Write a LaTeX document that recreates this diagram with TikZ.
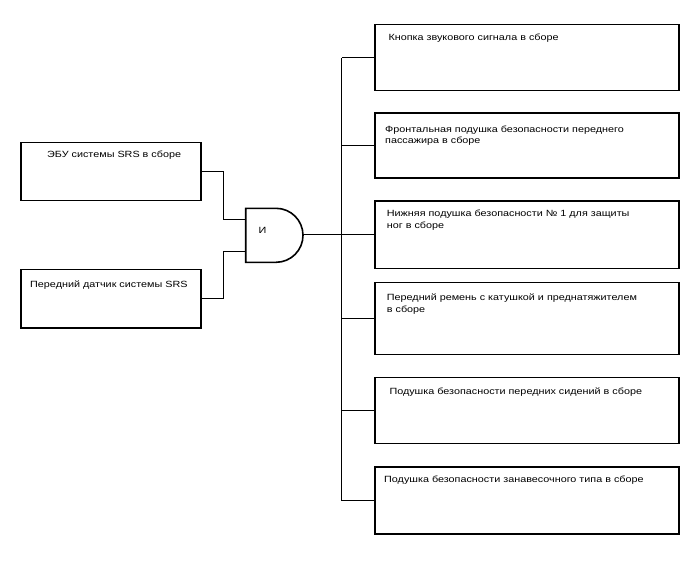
\documentclass[tikz,border=0pt]{standalone}
\usepackage{fontspec}
\setmainfont{Liberation Sans}[FakeStretch=1.2]
\begin{document}
\begin{tikzpicture}[x=1pt, y=-1pt,
  blk/.style={draw, line width=1.6pt, minimum width=304pt, inner sep=0pt},
  lblk/.style={draw, line width=1.6pt, minimum width=180pt, inner sep=0pt},
  txt/.style={anchor=base west, inner sep=0pt, align=left, font=\fontsize{9}{11.7}\selectfont},
  wire/.style={line width=1.1pt}]
  \useasboundingbox (0,0) rectangle (688,560);

  % left side boxes
  \node[lblk, minimum height=58.3pt] (ecu) at (110.7,171.5) {};
  \node[lblk, minimum height=58.4pt] (sens) at (110.7,298.5) {};
  \node[txt] (ecut) at (47,157.6) {ЭБУ системы SRS в сборе};
  \node[txt] (senst) at (30,287.9) {Передний датчик системы SRS};

  % AND gate
  \draw[line width=1.6pt] (245.7,208.3) -- (276,208.3)
    arc[start angle=90, end angle=-90, radius=27pt] -- (245.7,262.3) -- cycle;
  \coordinate (gin1) at (245.7,219.5);
  \coordinate (gin2) at (245.7,251.5);
  \coordinate (gout) at (303,234.5);
  \node[txt] (gate) at (258.3,233.7) {И};

  % right side boxes
  \node[blk, minimum height=65.7pt] (b1) at (527.2,57.5) {};
  \node[blk, minimum height=65pt]   (b2) at (527.2,145.5) {};
  \node[blk, minimum height=67.6pt] (b3) at (527.2,234.5) {};
  \node[blk, minimum height=72.3pt] (b4) at (527.2,318.5) {};
  \node[blk, minimum height=66pt]   (b5) at (527.2,410.5) {};
  \node[blk, minimum height=66.6pt] (b6) at (527.2,500.5) {};
  % two-line texts sit on the baseline of their last line
  \node[txt] (t1) at (388.3,40.3) {Кнопка звукового сигнала в сборе};
  \node[txt] (t2) at (385,143.7) {Фронтальная подушка безопасности переднего\\пассажира в сборе};
  \node[txt] (t3) at (386.7,228.6) {Нижняя подушка безопасности № 1 для защиты\\ног в сборе};
  \node[txt] (t4) at (386.7,312) {Передний ремень с катушкой и преднатяжителем\\в сборе};
  \node[txt] (t5) at (389.3,394.3) {Подушка безопасности передних сидений в сборе};
  \node[txt] (t6) at (384,482.9) {Подушка безопасности занавесочного типа в сборе};

  % connections
  \draw[wire] (ecu.east) -- (223.5,171.5) |- (gin1);
  \draw[wire] (sens.east) -- (223.5,298.5) |- (gin2);
  \coordinate (bus) at (341.5,0);
  \draw[wire] (gout) -- (gout -| bus);
  \draw[wire] (b1.west -| bus) -- (b6.west -| bus);
  \foreach \b in {b1,b2,b3,b4,b5,b6}
    \draw[wire] (\b.west) -- (\b.west -| bus);
\end{tikzpicture}
\end{document}
